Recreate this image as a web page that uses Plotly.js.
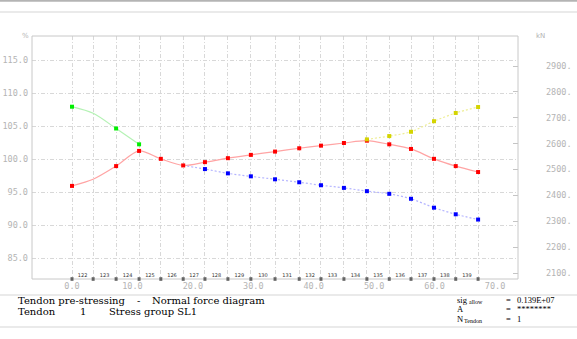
<!DOCTYPE html>
<html>
<head>
<meta charset="utf-8">
<script src="https://cdn.plot.ly/plotly-3.0.1.min.js"></script>
<style>html,body{margin:0;padding:0;background:#fff;}#chart{width:577px;height:339px;}</style>
</head>
<body>
<div id="chart"></div>
<script>
// ---- data ----
const nodes = [0, 3.5, 7.3, 11.1, 14.7, 18.4, 22.0, 25.8, 29.6, 33.6, 37.6, 41.2, 45.0, 48.8, 52.5, 56.1, 59.9, 63.5, 67.2];
const elemLabels = ['122','123','124','125','126','127','128','129','130','131','132','133','134','135','136','137','138','139'];
const xTickVals = [0, 10, 20, 30, 40, 50, 60, 70];
const xTickText = ['0.0', '10.0', '20.0', '30.0', '40.0', '50.0', '60.0', '70.0'];
const yTickVals = [85, 90, 95, 100, 105, 110, 115];
const yTickText = ['85.0', '90.0', '95.0', '100.0', '105.0', '110.0', '115.0'];
const kNTickVals = [2100, 2200, 2300, 2400, 2500, 2600, 2700, 2800, 2900];
const kNTickText = ['2100.', '2200.', '2300.', '2400.', '2500.', '2600.', '2700.', '2800.', '2900.'];

const redX = nodes;
const redY = [96.0, 97.0, 99.0, 101.3, 100.1, 99.1, 99.6, 100.2, 100.7, 101.2, 101.7, 102.1, 102.5, 102.85, 102.3, 101.6, 100.1, 99.0, 98.1];
const greenX = nodes.slice(0, 4);
const greenY = [108.0, 107.0, 104.7, 102.3];
const blueX = nodes.slice(5);
const blueY = [99.1, 98.55, 97.9, 97.45, 97.0, 96.55, 96.1, 95.7, 95.2, 94.8, 94.05, 92.7, 91.7, 90.9];
const yellowX = nodes.slice(13);
const yellowY = [103.05, 103.55, 104.2, 105.8, 107.05, 107.95];

const infoNames = ['sig', 'A', 'N'];
const infoSubs = ['allow', '', 'Tendon'];
const infoValues = ['0.139E+07', '********', '1'];

// ---- layout helpers ----
const W = 577, H = 339;
const L = 32, R = 518, T = 36, B = 279;
const pw = R - L, ph = B - T;
const px = v => (v - L) / pw;
const py = v => (B - v) / ph;

const gridCol = '#d8d8d8';
const gridDash = '4px,2px,1px,2px';
const tickFont = {family: 'DejaVu Sans Mono', size: 8.5, color: '#b4b4b4'};
const serif = 'DejaVu Serif';
const serif2 = 'Liberation Serif';

function lineTrace(x, y, color, dash) {
  return {x, y, mode: 'lines', type: 'scatter', xaxis: 'x', yaxis: 'y',
    line: {color, width: 1.2, dash, shape: 'spline', smoothing: 0.8}, hoverinfo: 'skip', showlegend: false};
}
function markTrace(x, y, color) {
  return {x, y, mode: 'markers', type: 'scatter', xaxis: 'x', yaxis: 'y',
    marker: {color, size: 4, symbol: 'square'}, hoverinfo: 'skip', showlegend: false};
}
const skipIdx1 = (arr) => arr.filter((_, i) => i !== 1);

const elemMid = elemLabels.map((_, i) => (nodes[i] + nodes[i + 1]) / 2);

const traces = [
  // empty trace so that the overlaid label axes (x2 / y2) are drawn
  {x: xTickVals, y: xTickVals.map(() => null), xaxis: 'x2', yaxis: 'y2', type: 'scatter', mode: 'markers',
    hoverinfo: 'skip', showlegend: false},
  lineTrace(greenX, greenY, '#b4f2b4', 'solid'),
  lineTrace(redX, redY, '#ffa4a4', 'solid'),
  lineTrace(blueX, blueY, '#b4b4ff', '2px,2px'),
  lineTrace(yellowX, yellowY, '#eeee96', '2px,2px'),
  markTrace(skipIdx1(greenX), skipIdx1(greenY), '#00ee00'),
  markTrace(skipIdx1(redX), skipIdx1(redY), '#ff0000'),
  markTrace(blueX.slice(1), blueY.slice(1), '#0000ff'),
  markTrace(yellowX, yellowY, '#d4d400'),
  {x: nodes, y: nodes.map(() => 0), mode: 'markers', type: 'scatter', xaxis: 'x', yaxis: 'y3',
    marker: {color: '#000', size: 3, symbol: 'square'}, cliponaxis: false, hoverinfo: 'skip', showlegend: false},
  {x: elemMid, y: elemMid.map(() => 0.014), mode: 'text', type: 'scatter', xaxis: 'x', yaxis: 'y3',
    text: elemLabels, textfont: {family: 'DejaVu Sans', size: 5, color: '#333'}, cliponaxis: false,
    hoverinfo: 'skip', showlegend: false}
];

const xr = [-(72 - L) / 6.043, (R - 72) / 6.043];
const yr = [100 - (B - 159.5) / 6.6, 100 + (159.5 - T) / 6.6];
const kr = [2500 - (B - 169.5) / 0.25875, 2500 + (169.5 - T) / 0.25875];

function ann(text, x, y, size, family) {
  return {text, xref: 'paper', yref: 'paper', x: px(x), y: py(y), xanchor: 'left', yanchor: 'middle',
    showarrow: false, borderpad: 0, font: {family: family || serif, size, color: '#000'}};
}
function hline(y, color, width) {
  return {type: 'line', xref: 'paper', yref: 'paper', x0: px(0), x1: px(W), y0: py(y), y1: py(y),
    line: {color, width}, layer: 'above'};
}

const rowY = [299.5, 309, 318.5];
const infoAnns = [];
infoNames.forEach((n, i) => {
  infoAnns.push(ann(n, 456, rowY[i], 8.5, serif2));
  if (infoSubs[i]) infoAnns.push(ann(infoSubs[i], i === 0 ? 468 : 463, rowY[i] + 2, 6, serif2));
  infoAnns.push(ann('=', 505, rowY[i], 8.5, serif2));
  infoAnns.push(ann(infoValues[i], 516, rowY[i], 8.5, serif2));
});

const layout = {
  width: W, height: H,
  margin: {l: L, r: W - R, t: T, b: H - B, pad: 0},
  paper_bgcolor: '#fff', plot_bgcolor: '#fff',
  showlegend: false,
  xaxis: {range: xr, tickvals: nodes, showticklabels: false, ticks: '', showgrid: true,
    gridcolor: gridCol, griddash: gridDash, gridwidth: 1, zeroline: false, showline: false, fixedrange: true},
  xaxis2: {overlaying: 'x', side: 'bottom', range: xr, tickvals: xTickVals, ticktext: xTickText,
    tickfont: tickFont, ticks: '', showgrid: false, zeroline: false, showline: false, fixedrange: true},
  yaxis: {range: yr, tickvals: yTickVals, ticktext: yTickText, tickfont: tickFont, ticks: '',
    showgrid: true, gridcolor: gridCol, griddash: gridDash, gridwidth: 1, zeroline: false,
    showline: false, ticklabelstandoff: 3, fixedrange: true},
  yaxis2: {overlaying: 'y', side: 'right', range: kr, tickvals: kNTickVals, ticktext: kNTickText,
    tickfont: tickFont, ticks: 'inside', ticklen: 5, tickcolor: '#c4c4c4', showgrid: false,
    zeroline: false, showline: false, ticklabelstandoff: 27, fixedrange: true},
  yaxis3: {overlaying: 'y', range: [0, 1], visible: false, fixedrange: true},
  shapes: [
    {type: 'rect', xref: 'paper', yref: 'paper', x0: 0, x1: 1, y0: 0, y1: 1, line: {color: '#c8c8c8', width: 1}, layer: 'above'},
    hline(0.8, '#b4b4b4', 2),
    hline(12, '#d6d6d6', 1.2),
    hline(295, '#d6d6d6', 1.2),
    hline(327, '#d6d6d6', 1.2)
  ],
  annotations: [
    {text: '%', xref: 'paper', yref: 'paper', x: px(25), y: py(36), xanchor: 'center', yanchor: 'middle',
      showarrow: false, font: {family: 'DejaVu Sans', size: 7, color: '#b4b4b4'}},
    {text: 'kN', xref: 'paper', yref: 'paper', x: px(540), y: py(36), xanchor: 'center', yanchor: 'middle',
      showarrow: false, font: {family: 'DejaVu Sans', size: 7, color: '#b4b4b4'}},
    ann('Tendon pre-stressing', 17, 300.5, 10),
    ann('-', 136, 300.5, 10),
    ann('Normal force diagram', 151, 300.5, 10),
    ann('Tendon', 17, 311, 10),
    ann('1', 79, 311, 10),
    ann('Stress group SL1', 108, 311, 10)
  ].concat(infoAnns)
};

Plotly.newPlot('chart', traces, layout, {displayModeBar: false, staticPlot: true});
</script>
</body>
</html>
